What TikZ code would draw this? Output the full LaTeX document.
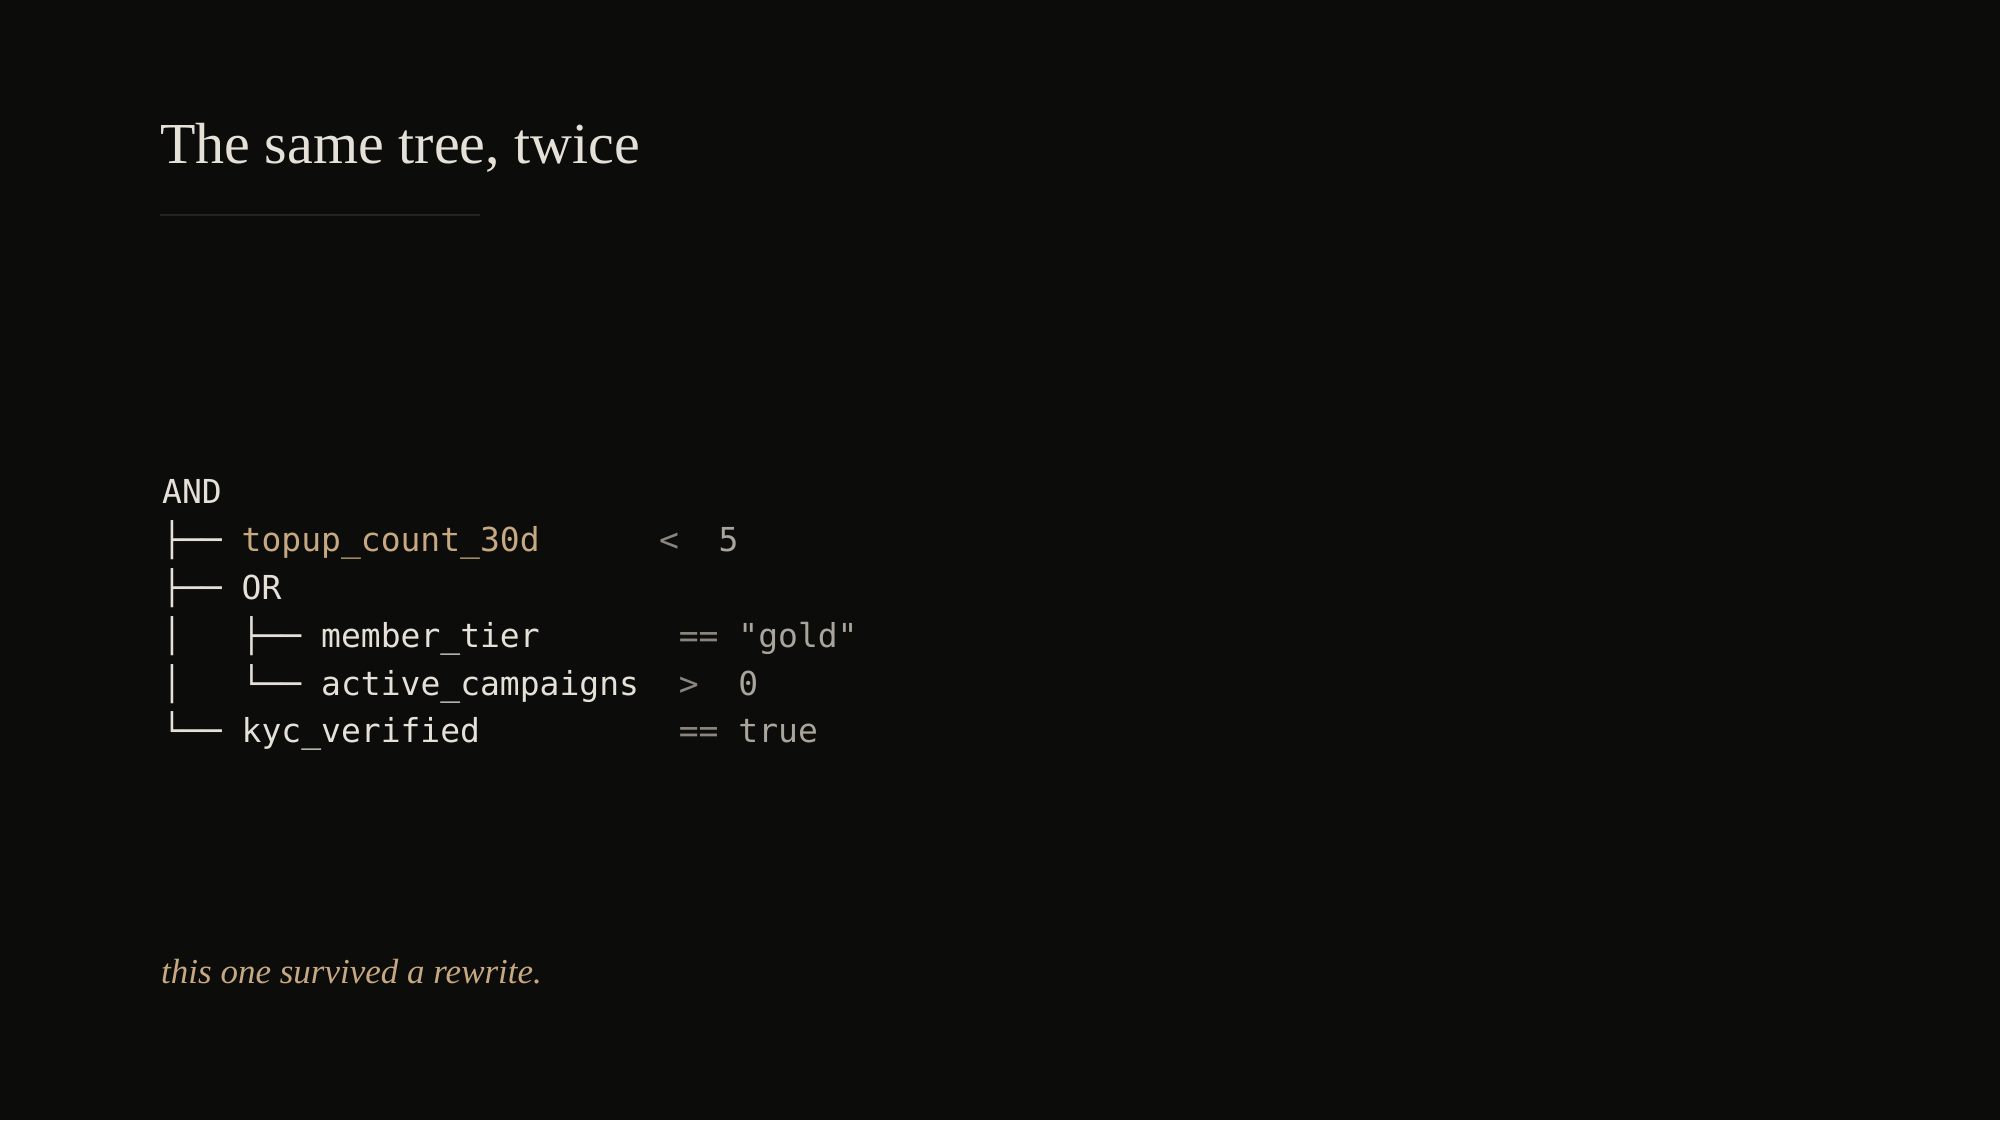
\documentclass[tikz,border=0pt]{standalone}
\usepackage{fontspec}
\setmainfont{Liberation Serif}
\newfontfamily\codefont{DejaVu Sans Mono}
\usetikzlibrary{positioning}

\definecolor{bgdark}{HTML}{0C0C0A}
\definecolor{ink}{HTML}{E6E1D8}
\definecolor{tan}{HTML}{C6A982}
\definecolor{opgray}{HTML}{8A867E}
\definecolor{valgray}{HTML}{A9A59C}
\definecolor{rulegray}{HTML}{232320}

\tikzset{
  code/.style={anchor=base west, inner sep=0pt, text=ink, font=\codefont\fontsize{33}{33}\selectfont},
  opcode/.style={code, text=opgray},
  valcode/.style={code, text=valgray},
}

\begin{document}
\begin{tikzpicture}[x=1pt,y=-1pt]
    % background, fixes the page size
    \fill[bgdark] (0,0) rectangle (2000,1120);

    % Title and rule
    \node[anchor=base west, inner sep=0pt, text=ink, font=\fontsize{58}{58}\selectfont] (title) at (160,163) {The same tree, twice};
    \draw[rulegray, line width=1.2pt] (160,215) -- (480,215);

    % Tree (one cell is 19.87 wide, rows 47.8 apart)
    \node[code] (and) at (162,503) {AND};

    \node[code] (br1) at (162,551) {├──};
    \node[code, text=tan] (topup) at (241.5,551) {topup\_count\_30d};
    \node[opcode] (op1) at (658.8,551) {<};
    \node[valcode] (val1) at (718.4,551) {5};

    \node[code] (br2) at (162,599) {├──};
    \node[code] (or) at (241.5,599) {OR};

    \node[code] (bar3) at (162,647) {│};
    \node[code] (br3) at (241.5,647) {├──};
    \node[code] (tier) at (321,647) {member\_tier};
    \node[opcode] (op3) at (678.6,647) {==};
    \node[valcode] (val3) at (738.2,647) {"gold"};

    \node[code] (bar4) at (162,695) {│};
    \node[code] (br4) at (241.5,695) {└──};
    \node[code] (camp) at (321,695) {active\_campaigns};
    \node[opcode] (op4) at (678.6,695) {>};
    \node[valcode] (val4) at (738.2,695) {0};

    \node[code] (br5) at (162,742) {└──};
    \node[code] (kyc) at (241.5,742) {kyc\_verified};
    \node[opcode] (op5) at (678.6,742) {==};
    \node[valcode] (val5) at (738.2,742) {true};

    % Caption
    \node[anchor=base west, inner sep=0pt, text=tan, font=\itshape\fontsize{35}{35}\selectfont] (note) at (161,983) {this one survived a rewrite.};
\end{tikzpicture}
\end{document}
